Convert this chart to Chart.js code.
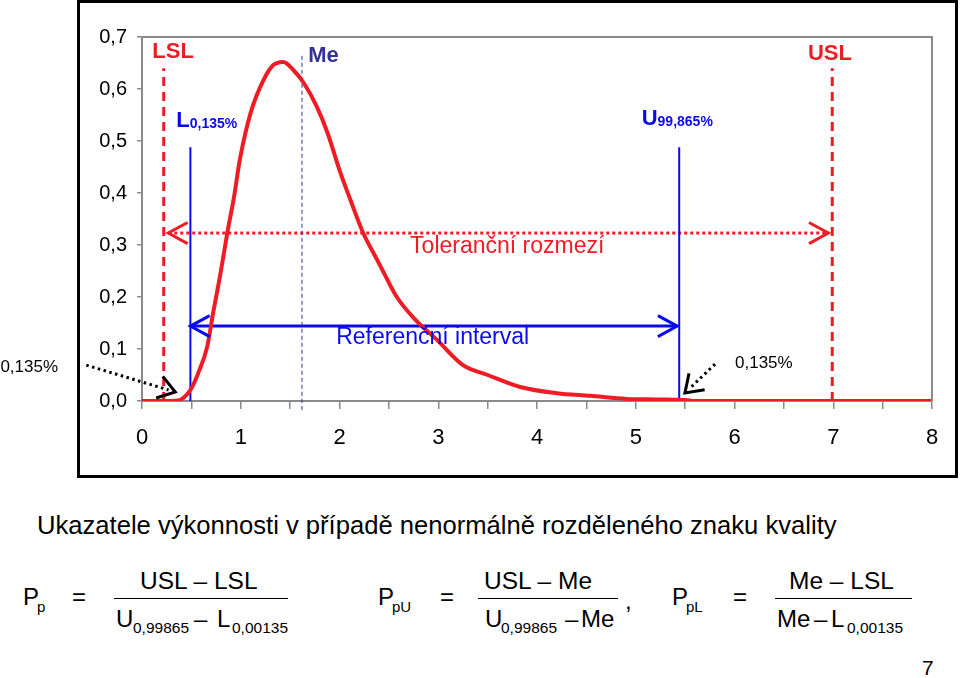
<!DOCTYPE html>
<html>
<head>
<meta charset="utf-8">
<script src="https://cdn.jsdelivr.net/npm/chart.js@4"></script>
<style>
  body { margin: 0; background: #fff; }
  #wrap { position: relative; width: 960px; height: 678px; overflow: hidden; font-family: "Liberation Sans", Arial, sans-serif; }
  #c { position: absolute; left: 0; top: 0; }
  .t { position: absolute; white-space: pre; line-height: 1; color: #000; }
  .bar { position: absolute; border-top: 1px solid #000; height: 0; }
</style>
</head>
<body>
<div id="wrap"><canvas id="c" width="960" height="480"></canvas></div>
<script>
// distribution curve
const curveX = [0, 0.3, 0.37, 0.42, 0.49, 0.57, 0.66, 0.72, 0.79, 0.87, 0.93, 0.99, 1.1, 1.23, 1.33, 1.43, 1.53, 1.64, 1.77, 1.88, 2.0, 2.11, 2.24, 2.38, 2.48, 2.58, 2.75, 2.99, 3.25, 3.5, 3.83, 4.2, 4.54, 4.91, 5.2, 5.5, 5.6, 8];
const curveY = [0, 0, 0.001, 0.006, 0.021, 0.054, 0.104, 0.169, 0.24, 0.33, 0.39, 0.463, 0.554, 0.617, 0.646, 0.652, 0.637, 0.611, 0.566, 0.515, 0.444, 0.387, 0.323, 0.272, 0.235, 0.2, 0.16, 0.117, 0.069, 0.05, 0.027, 0.015, 0.01, 0.004, 0.003, 0.002, 0, 0];

// vertical markers: LSL, L 0,135 %, Me, U 99,865 %, USL
const markerX   = [0.22, 0.49, 1.62, 5.44, 6.99];
const markerTop = [0.64, 0.488, 0.665, 0.488, 0.64];
const meBottom  = -0.017;

// horizontal arrows
const tolX = [0.266, 6.95], tolY = 0.323;   // Toleranční rozmezí
const refX = [0.49, 5.42],  refY = 0.144;   // Referenční interval

const xTickStep = 0.5, yTickStep = 0.1;

const RED = '#ee1c25', BLUE = '#0a0aee', NAVY = '#333399';

const pts = (xs, ys) => xs.map((x, i) => ({ x, y: ys[i] }));
const vline = (x, y0, y1) => [{ x, y: y0 }, { x, y: y1 }];

const datasets = [
  { data: pts(curveX, curveY), borderColor: RED, borderWidth: 4, cubicInterpolationMode: 'monotone' },
  { data: vline(markerX[2], meBottom, markerTop[2]), borderColor: NAVY, borderWidth: 1, borderDash: [4, 3], clip: false },
  { data: vline(markerX[0], 0, markerTop[0]), borderColor: RED, borderWidth: 3, borderDash: [9, 6] },
  { data: vline(markerX[4], 0, markerTop[4]), borderColor: RED, borderWidth: 3, borderDash: [9, 6] },
  { data: vline(markerX[1], 0, markerTop[1]), borderColor: BLUE, borderWidth: 2 },
  { data: vline(markerX[3], 0, markerTop[3]), borderColor: BLUE, borderWidth: 2 },
  { data: pts(tolX, [tolY, tolY]), borderColor: RED, borderWidth: 3, borderDash: [3, 3] },
  { data: pts(refX, [refY, refY]), borderColor: BLUE, borderWidth: 3 }
].map(d => Object.assign({ showLine: true, pointRadius: 0, fill: false }, d));

// texts inside the chart, in data units
const chartTexts = [
  { t: 'LSL', x: 0.104, y: 0.66, font: 'bold 22px', color: RED },
  { t: 'Me', x: 1.684, y: 0.652, font: 'bold 22px', color: NAVY },
  { t: 'USL', x: 6.744, y: 0.656, font: 'bold 22px', color: RED },
  { t: 'L', sub: '0,135%', x: 0.347, y: 0.527, font: 'bold 22px', subFont: 'bold 14px', color: BLUE },
  { t: 'U', sub: '99,865%', x: 5.06, y: 0.531, font: 'bold 22px', subFont: 'bold 14px', color: BLUE },
  { t: 'Toleranční rozmezí', x: 2.715, y: 0.285, font: '23px', color: RED },
  { t: 'Referenční interval', x: 1.966, y: 0.11, font: '23px', color: BLUE },
  { t: '0,135%', x: -1.434, y: 0.056, font: '17px', color: '#000' },
  { t: '0,135%', x: 6.005, y: 0.063, font: '17px', color: '#000' }
];
const FAM = '"Liberation Sans", Arial, sans-serif';

// dotted pointers to the 0,135 % tails
const pointers = [
  { from: [-0.564, 0.069], to: [0.337, 0.0173] },
  { from: [5.803, 0.071], to: [5.498, 0.0154] }
];

function arrowHead(ctx, tx, ty, ang, len, spread) {
  ctx.beginPath();
  ctx.moveTo(tx + len * Math.cos(ang + spread), ty + len * Math.sin(ang + spread));
  ctx.lineTo(tx, ty);
  ctx.lineTo(tx + len * Math.cos(ang - spread), ty + len * Math.sin(ang - spread));
  ctx.stroke();
}

const decor = {
  id: 'decor',
  beforeDraw(chart) {
    const ctx = chart.ctx;
    ctx.save();
    ctx.fillStyle = '#fff';
    ctx.fillRect(0, 0, chart.width, chart.height);
    ctx.strokeStyle = '#000';
    ctx.lineWidth = 3;
    ctx.strokeRect(78.5, 1.5, 878, 475);
    ctx.restore();
  },
  afterDraw(chart) {
    const ctx = chart.ctx, a = chart.chartArea;
    const sx = chart.scales.x, sy = chart.scales.y;
    const px = v => sx.getPixelForValue(v), py = v => sy.getPixelForValue(v);
    ctx.save();
    // plot frame top / right
    ctx.strokeStyle = '#8a8a8a';
    ctx.lineWidth = 2;
    ctx.beginPath();
    ctx.moveTo(a.left, a.top); ctx.lineTo(a.right, a.top); ctx.lineTo(a.right, a.bottom);
    ctx.stroke();

    // arrow heads
    ctx.lineWidth = 3;
    ctx.lineCap = 'butt';
    ctx.strokeStyle = RED;
    arrowHead(ctx, px(tolX[0]), py(tolY), 0, 22, 0.5);
    arrowHead(ctx, px(tolX[1]), py(tolY), Math.PI, 22, 0.5);
    ctx.strokeStyle = BLUE;
    arrowHead(ctx, px(refX[0]), py(refY), 0, 22, 0.5);
    arrowHead(ctx, px(refX[1]), py(refY), Math.PI, 22, 0.5);

    // dotted pointers
    ctx.strokeStyle = '#000';
    pointers.forEach(p => {
      const x0 = px(p.from[0]), y0 = py(p.from[1]), x1 = px(p.to[0]), y1 = py(p.to[1]);
      const ang = Math.atan2(y0 - y1, x0 - x1);
      ctx.setLineDash([2.5, 3.5]);
      ctx.beginPath();
      ctx.moveTo(x0, y0);
      ctx.lineTo(x1 + 7 * Math.cos(ang), y1 + 7 * Math.sin(ang));
      ctx.stroke();
      ctx.setLineDash([]);
      arrowHead(ctx, x1, y1, ang, 20, 0.6);
    });

    // texts
    ctx.textBaseline = 'alphabetic';
    ctx.textAlign = 'left';
    chartTexts.forEach(o => {
      ctx.fillStyle = o.color;
      ctx.font = o.font + ' ' + FAM;
      const x = px(o.x), y = py(o.y);
      ctx.fillText(o.t, x, y);
      if (o.sub) {
        const w = ctx.measureText(o.t).width;
        ctx.font = o.subFont + ' ' + FAM;
        ctx.fillText(o.sub, x + w, y + 1);
      }
    });
    ctx.restore();
  }
};

new Chart(document.getElementById('c'), {
  type: 'scatter',
  data: { datasets },
  options: {
    responsive: false,
    animation: false,
    layout: { padding: { left: 0, top: 37, right: 28, bottom: 0 } },
    plugins: { legend: { display: false }, tooltip: { enabled: false } },
    scales: {
      x: {
        type: 'linear', min: 0, max: 8,
        afterFit: s => { s.height = 79; },
        grid: { drawOnChartArea: false, drawTicks: true, tickLength: 8, color: '#8a8a8a', lineWidth: 1.5 },
        border: { color: '#8a8a8a', width: 2 },
        ticks: {
          stepSize: xTickStep, autoSkip: false, maxRotation: 0, padding: 16,
          color: '#000', font: { family: FAM, size: 22 },
          callback: v => Number.isInteger(v) ? String(v) : ''
        }
      },
      y: {
        min: 0, max: 0.7,
        afterFit: s => { s.width = 142; },
        grid: { drawOnChartArea: false, drawTicks: true, tickLength: 5, color: '#8a8a8a', lineWidth: 1.5 },
        border: { color: '#8a8a8a', width: 2 },
        ticks: {
          stepSize: yTickStep, padding: 10,
          color: '#000', font: { family: FAM, size: 20 },
          callback: v => v.toFixed(1).replace('.', ',')
        }
      }
    }
  },
  plugins: [decor]
});

// slide text below the chart
const wrap = document.getElementById('wrap');
function put(txt, x, base, size) {
  const s = document.createElement('span');
  s.className = 't';
  s.textContent = txt;
  s.style.left = x + 'px';
  s.style.top = (base - 0.8465 * size) + 'px';
  s.style.fontSize = size + 'px';
  wrap.appendChild(s);
}
function bar(x0, x1, y) {
  const d = document.createElement('div');
  d.className = 'bar';
  d.style.left = x0 + 'px';
  d.style.top = y + 'px';
  d.style.width = (x1 - x0) + 'px';
  wrap.appendChild(d);
}

put('Ukazatele výkonnosti v případě nenormálně rozděleného znaku kvality', 37, 535, 25.6);

put('P', 23, 605, 24); put('p', 37, 612, 15); put('=', 72, 605, 24);
put('USL – LSL', 140, 590, 24.5);
bar(114, 288, 598);
put('U', 116, 627, 24); put('0,99865', 133, 633, 15.5); put('–', 194, 627, 24); put('L', 217, 627, 24); put('0,00135', 232, 633, 15.5);

put('P', 378, 605, 24); put('pU', 392, 612, 15); put('=', 440, 605, 24);
put('USL – Me', 484, 590, 24.5);
bar(478, 618, 598);
put('U', 485, 627, 24); put('0,99865', 501, 633, 15.5); put('–', 565, 627, 24); put('Me', 581, 627, 24); put(',', 625, 609, 24);

put('P', 672, 605, 24); put('pL', 686, 612, 15); put('=', 733, 605, 24);
put('Me – LSL', 789, 590, 24.5);
bar(775, 912, 598);
put('Me', 777, 627, 24); put('–', 814, 627, 24); put('L', 831, 627, 24); put('0,00135', 847, 633, 15.5);

put('7', 922, 675, 21);
</script>
</body>
</html>
